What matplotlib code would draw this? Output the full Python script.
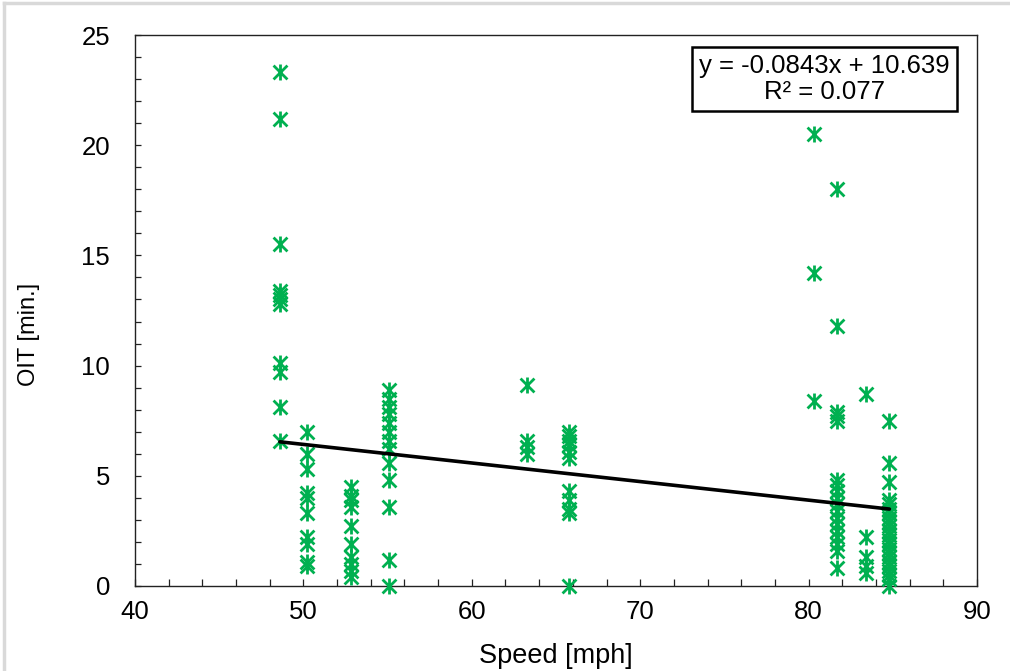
import matplotlib
matplotlib.use("Agg")
import matplotlib.pyplot as plt
from matplotlib.path import Path
from matplotlib.lines import Line2D
import numpy as np

plt.rcParams['font.family'] = ['Liberation Sans', 'DejaVu Sans']

# ---- data ----
speed_486 = [23.3, 21.2, 15.5, 13.4, 13.2, 13.0, 12.8, 10.1, 9.7, 8.1, 6.6]
speed_502 = [7.0, 6.0, 5.3, 4.2, 4.0, 3.3, 2.2, 1.9, 1.1, 0.9]
speed_528 = [4.5, 4.1, 3.9, 3.6, 2.7, 1.9, 1.3, 1.0, 0.7, 0.4]
speed_551 = [8.9, 8.5, 8.1, 7.8, 7.4, 7.0, 6.6, 6.2, 5.6, 4.8, 3.6, 1.2, 0.0]
speed_633 = [9.1, 6.6, 6.3, 6.0]
speed_657 = [7.0, 6.8, 6.6, 6.4, 6.1, 5.8, 4.3, 3.9, 3.5, 3.3, 0.0]
speed_803 = [20.5, 14.2, 8.4]
speed_817 = [18.0, 11.8, 7.9, 7.7, 7.5, 4.8, 4.6, 4.3, 4.0, 3.7, 3.4, 3.1, 2.8,
             2.5, 2.2, 1.9, 1.6, 0.8]
speed_834 = [8.7, 2.2, 1.3, 0.9, 0.6]
speed_848 = [7.5, 5.6, 4.7, 3.9, 3.7, 3.5, 3.3, 3.1, 2.9, 2.7, 2.5, 2.3, 2.1,
             1.9, 1.7, 1.5, 1.3, 1.1, 0.9, 0.7, 0.5, 0.3, 0.0]

column_speeds = [48.6, 50.2, 52.8, 55.1, 63.3, 65.8, 80.3, 81.7, 83.4, 84.8]
column_oit = [speed_486, speed_502, speed_528, speed_551, speed_633, speed_657,
              speed_803, speed_817, speed_834, speed_848]

slope = -0.0843
intercept = 10.639
r_squared = 0.077

x_vals = np.concatenate([[s] * len(v) for s, v in zip(column_speeds, column_oit)])
y_vals = np.concatenate(column_oit)

# ---- figure ----
fig = plt.figure(figsize=(10.10, 6.71), dpi=100)
ax = fig.add_axes([0.1337, 0.1267, 0.8336, 0.8211])

# Excel-like star marker: X with a vertical bar
star = Path([(-1, -1), (1, 1), (-1, 1), (1, -1), (0, -1.15), (0, 1.15)],
            [Path.MOVETO, Path.LINETO, Path.MOVETO, Path.LINETO, Path.MOVETO, Path.LINETO])

ax.plot(x_vals, y_vals, linestyle='none', marker=star, markersize=11.5,
        markeredgewidth=2.0, markeredgecolor='#00B050', markerfacecolor='none',
        zorder=3, clip_on=False)

tx = np.array([min(column_speeds), max(column_speeds)])
ax.plot(tx, slope * tx + intercept, color='black', linewidth=2.6, zorder=4,
        solid_capstyle='round')

FS = 18.5
ax.set_xlim(40, 90)
ax.set_ylim(0, 25)
ax.set_xticks(np.arange(40, 91, 10))
ax.set_yticks(np.arange(0, 26, 5))
ax.set_xticks(np.arange(40, 91, 2), minor=True)
ax.set_yticks(np.arange(0, 26, 1), minor=True)
ax.tick_params(axis='both', which='both', direction='in', length=5, width=0.9,
               color='#222222', labelsize=FS)
ax.tick_params(axis='x', which='both', top=False, pad=10)
ax.tick_params(axis='y', which='both', right=False, pad=18)
ax.tick_params(axis='y', which='both', length=4)
for sp in ax.spines.values():
    sp.set_linewidth(1.0)
    sp.set_color('#222222')

ax.set_xlabel('Speed [mph]', fontsize=19.5, labelpad=14)
ax.set_ylabel('OIT [min.]', fontsize=17, labelpad=12)
ax.yaxis.set_label_coords(-0.113, 0.457)

ax.text(0.819, 0.920, f'y = {slope}x + {intercept}\nR\u00b2 = {r_squared}',
        transform=ax.transAxes, ha='center', va='center', multialignment='center',
        fontsize=FS, linespacing=1.08, zorder=5,
        bbox=dict(boxstyle='square,pad=0.27', facecolor='white', edgecolor='black',
                  linewidth=1.8))

# light gray frame on top and left like the screenshot
fig.add_artist(Line2D([0.004, 0.004], [0, 0.996], transform=fig.transFigure,
                      color='#d9d9d9', linewidth=2.5))
fig.add_artist(Line2D([0.004, 1.0], [0.995, 0.995], transform=fig.transFigure,
                      color='#d9d9d9', linewidth=2.5))

fig.savefig('out.png', dpi=100)
